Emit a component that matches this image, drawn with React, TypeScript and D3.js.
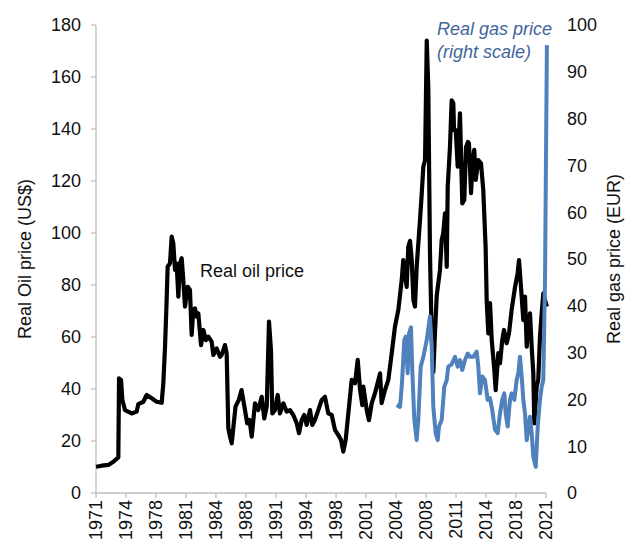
import React from "react";
import * as d3 from "d3";

const oilSeries: [number, number][] = [
  [1971.5,10.1],[1972.13,10.5],[1972.87,10.8],[1973.43,12.0],[1973.98,13.7],[1974.06,44.1],[1974.28,43.5],[1974.43,35.8],[1974.72,31.9],[1975.46,30.6],[1976.02,31.3],[1976.2,34.2],[1976.76,35.1],[1977.13,37.7],[1977.69,36.4],[1978.24,35.1],[1978.8,34.7],[1978.98,42.2],[1979.17,56.3],[1979.35,74.2],[1979.46,87.0],[1979.72,88.3],[1979.91,98.6],[1980.09,96],[1980.28,85.8],[1980.46,88.3],[1980.65,75.5],[1980.83,88.3],[1981.02,90.3],[1981.2,81.9],[1981.39,71.7],[1981.69,79.3],[1981.94,78.1],[1982.13,60.8],[1982.31,70.4],[1982.5,71.0],[1982.69,67.8],[1982.87,69.1],[1983.17,56.9],[1983.43,62.7],[1983.72,58.8],[1983.98,60.1],[1984.35,58.2],[1984.54,53.1],[1984.91,55.6],[1985.28,52.4],[1985.46,53.1],[1985.83,56.9],[1986.02,53.7],[1986.2,25],[1986.39,21.7],[1986.58,19.1],[1987.0,33.2],[1987.37,35.8],[1987.67,39.6],[1987.93,34.5],[1988.3,26.8],[1988.56,28.1],[1988.8,21.7],[1989.17,34.5],[1989.53,31.9],[1989.91,37],[1990.2,28.7],[1990.47,33.2],[1990.72,65.9],[1990.94,55],[1991.09,30.6],[1991.39,31.9],[1991.69,37.7],[1991.94,30.6],[1992.31,34.5],[1992.69,31.3],[1993.06,31.9],[1993.42,30],[1993.8,26.8],[1994.06,23],[1994.36,28.1],[1994.64,30],[1994.91,26.2],[1995.28,31.9],[1995.53,26.2],[1995.83,28.1],[1996.2,31.9],[1996.58,35.8],[1996.94,37],[1997.31,30.6],[1997.69,30],[1998.06,24.2],[1998.42,22.3],[1998.72,20.4],[1998.98,15.9],[1999.24,20.4],[1999.61,33.2],[1999.91,43.5],[2000.28,42.2],[2000.58,51.2],[2000.83,40],[2001.09,33.8],[2001.2,40.9],[2001.58,31.9],[2001.83,28],[2002.13,34.5],[2002.5,38.4],[2003.06,46],[2003.24,34.6],[2003.61,39.6],[2003.98,43.5],[2004.36,53.8],[2004.72,64],[2005.09,70.4],[2005.47,81.9],[2005.64,89.6],[2005.83,84.5],[2006.02,79.3],[2006.2,94.7],[2006.39,97],[2006.58,89.6],[2006.77,74.2],[2006.94,71.7],[2007.13,87],[2007.5,105],[2007.69,115],[2007.87,125.5],[2008.06,128],[2008.25,174],[2008.42,156],[2008.61,92],[2008.8,60],[2008.98,46.5],[2009.17,62],[2009.36,76],[2009.72,85.8],[2009.91,97.3],[2010.09,100],[2010.28,107.6],[2010.47,87],[2010.58,117.8],[2010.83,133],[2011.02,151],[2011.2,150],[2011.28,139.6],[2011.47,139.6],[2011.69,125.5],[2011.94,146],[2012.2,111.4],[2012.42,112.7],[2012.61,133],[2012.83,135],[2012.94,134.5],[2013.17,115.3],[2013.36,128],[2013.53,132],[2013.69,120.4],[2013.98,128],[2014.28,126.8],[2014.53,116.5],[2014.79,94.7],[2014.91,74],[2015.09,61.4],[2015.28,73],[2015.47,58.8],[2015.76,47.3],[2015.91,39.6],[2016.2,53.8],[2016.39,49.9],[2016.64,58.8],[2016.83,62.7],[2017.13,57.6],[2017.39,61.4],[2017.68,70.4],[2018.06,79.3],[2018.35,84.5],[2018.5,89.6],[2018.72,79.3],[2018.98,66.5],[2019.17,75.5],[2019.36,56.3],[2019.53,65.3],[2019.72,69.1],[2019.91,56.3],[2020.09,46],[2020.2,26.8],[2020.47,40.9],[2020.64,43.5],[2020.83,60],[2021.02,69.1],[2021.2,76.8],[2021.39,74.2],[2021.6,71.7]
];

const gasSeries: [number, number][] = [
  [2004.91,18.8],[2005.28,18.4],[2005.47,22.7],[2005.76,32.7],[2005.91,33.4],[2006.13,25.6],[2006.28,34.1],[2006.5,35.4],[2006.64,26.3],[2006.87,15.6],[2007.13,11.3],[2007.31,15.6],[2007.58,27],[2007.87,29.1],[2008.25,32.7],[2008.61,37.7],[2008.8,31.3],[2008.98,18.4],[2009.24,12.8],[2009.47,11.3],[2009.61,14.2],[2009.91,15.6],[2010.2,22.7],[2010.47,24.1],[2010.64,27],[2011.02,27.5],[2011.39,29.1],[2011.69,27],[2011.94,28.4],[2012.2,26.3],[2012.5,28.4],[2012.8,29.8],[2013.06,29.1],[2013.42,29.1],[2013.8,30.2],[2013.98,27],[2014.17,21.3],[2014.42,24.9],[2014.72,24.1],[2015.02,19.9],[2015.28,20.3],[2015.53,17.7],[2015.83,13.5],[2016.13,12.8],[2016.39,17],[2016.64,19.9],[2016.87,21.3],[2017.02,17],[2017.24,14.2],[2017.5,19.9],[2017.69,21.3],[2017.98,19.9],[2018.24,24.1],[2018.42,25.6],[2018.61,29.1],[2018.8,24.9],[2018.98,19.9],[2019.17,17],[2019.36,11.3],[2019.53,13.5],[2019.72,16.3],[2019.91,12.8],[2020.09,7.8],[2020.36,5.6],[2020.58,14.2],[2020.83,19.9],[2021.02,22.7],[2021.2,24.1],[2021.39,45.5],[2021.6,95.7]
];

const xTickYears = [1971.5,1974.83,1978.17,1981.5,1984.83,1988.17,1991.5,1994.83,1998.17,2001.5,2004.83,2008.17,2011.5,2014.83,2018.17,2021.5];
const xTickLabels = ["1971","1974","1978","1981","1984","1988","1991","1994","1998","2001","2004","2008","2011","2014","2018","2021"];
const leftTicks = [0,20,40,60,80,100,120,140,160,180];
const rightTicks = [0,10,20,30,40,50,60,70,80,90,100];

const FONT = "'Liberation Sans', Arial, sans-serif";

export default function App() {
  const W = 637, H = 550;
  const x = d3.scaleLinear().domain([1971.5, 2021.5]).range([96, 546]);
  const yL = d3.scaleLinear().domain([0, 180]).range([493, 25]);
  const yR = d3.scaleLinear().domain([0, 100]).range([493, 25]);
  const oilLine = d3.line<[number, number]>().x(d => x(d[0])).y(d => yL(d[1]));
  const gasLine = d3.line<[number, number]>().x(d => x(d[0])).y(d => yR(d[1]));
  const axisColor = "#bfbfbf";
  const textColor = "#111";
  return (
    <svg width={W} height={H} style={{ position: "absolute", left: 0, top: 0, background: "#fff" }} fontFamily={FONT}>
      <rect x={0} y={0} width={W} height={H} fill="#fff" />
      <line x1={96} x2={96} y1={yL(180)} y2={yL(0)} stroke={axisColor} strokeWidth={1.3} />
      {leftTicks.map(t => (
        <g key={"l" + t}>
          <line x1={91} x2={96} y1={yL(t)} y2={yL(t)} stroke={axisColor} strokeWidth={1.3} />
          <text x={81} y={yL(t)} dy="0.35em" textAnchor="end" fontSize={18} fill={textColor}>{t}</text>
        </g>
      ))}
      {rightTicks.map(t => (
        <text key={"r" + t} x={567} y={yR(t)} dy="0.35em" textAnchor="start" fontSize={18} fill={textColor}>{t}</text>
      ))}
      <line x1={96} x2={x(2021.5)} y1={493} y2={493} stroke={axisColor} strokeWidth={1.3} />
      {xTickYears.map((t, i) => (
        <g key={"x" + i}>
          <line x1={x(t)} x2={x(t)} y1={493} y2={498} stroke={axisColor} strokeWidth={1.3} />
          <text transform={`translate(${x(t)},${500}) rotate(-90)`} dy="0.35em" textAnchor="end" fontSize={18} fill={textColor}>{xTickLabels[i]}</text>
        </g>
      ))}
      <text transform={`translate(25,259) rotate(-90)`} dy="0.35em" textAnchor="middle" fontSize={18} fill={textColor}>Real Oil price (US$)</text>
      <text transform={`translate(614,259) rotate(-90)`} dy="0.35em" textAnchor="middle" fontSize={18} fill={textColor}>Real gas price (EUR)</text>
      <path d={oilLine(oilSeries) || ""} fill="none" stroke="#000" strokeWidth={4.2} strokeLinejoin="round" />
      <path d={gasLine(gasSeries) || ""} fill="none" stroke="#4f81bd" strokeWidth={4} strokeLinejoin="round" />
      <text x={200} y={277} fontSize={18} fill={textColor}>Real oil price</text>
      <text x={437} y={35} fontSize={18} fontStyle="italic" fill="#3e659b">Real gas price</text>
      <text x={437} y={58} fontSize={18} fontStyle="italic" fill="#3e659b">(right scale)</text>
    </svg>
  );
}
